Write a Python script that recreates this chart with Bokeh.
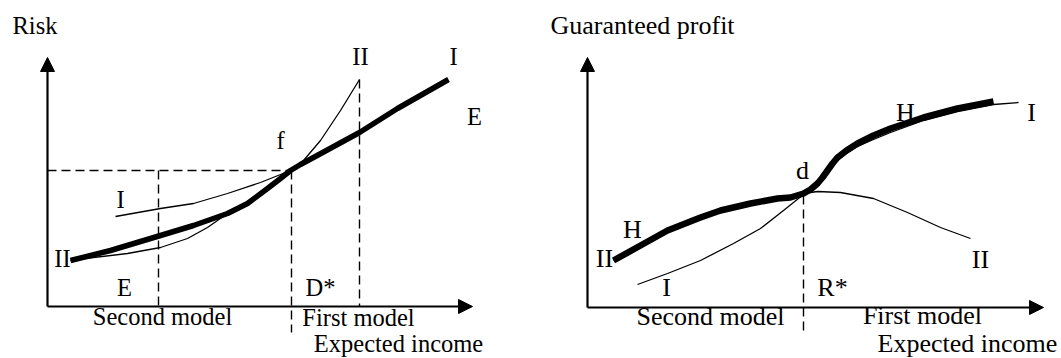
from bokeh.plotting import figure
from bokeh.models import Range1d, Arrow, NormalHead, ColumnDataSource
from bokeh.core.properties import value
from bokeh.embed import file_html
from bokeh.resources import INLINE

FONT = "Liberation Serif"

# ---------------- Left panel (Risk vs Expected income) ----------------
left_thick_x = [70, 110, 160, 193, 227, 247, 267, 280, 290, 300, 313, 359, 397, 448]
left_thick_y = [260, 250, 235, 225, 213, 203, 188, 178, 170, 164, 157, 132, 108, 79]
left_II_x = [70, 93, 127, 160, 187, 207, 227, 247, 267, 290, 303, 320, 340, 359]
left_II_y = [260, 257, 253, 247, 238, 227, 213, 203, 188, 170, 160, 140, 110, 79]
left_I_x = [115, 160, 193, 227, 260, 290]
left_I_y = [216, 208, 203, 193, 182, 170]

# ---------------- Right panel (Guaranteed profit vs Expected income) ----------------
right_H_x = [613, 640, 667, 700, 720, 750, 777, 790, 803, 810, 817, 822, 827, 832, 837, 846, 857, 873, 890, 923, 957, 993]
right_H_y = [260, 245, 230, 217, 210, 203, 198, 197, 193, 189, 183, 177, 170, 163, 157, 150, 143, 135, 128, 117, 108, 101]
right_I_x = [637, 667, 700, 733, 760, 783, 803, 810, 817, 822, 827, 832, 837, 846, 857, 873, 890, 923, 957, 993, 1018]
right_I_y = [284, 273, 260, 243, 228, 210, 194, 189, 184, 178, 172, 166, 160, 153, 146, 139, 132, 120, 111, 104, 102]
right_II_x = [613, 640, 667, 700, 720, 750, 777, 790, 803, 817, 840, 873, 907, 940, 970]
right_II_y = [260, 245, 230, 217, 210, 203, 198, 197, 193, 191, 192, 198, 212, 227, 238]

# labels: text, x, baseline y, align
left_text = ["Risk", "II", "I", "E", "f", "I", "II", "E", "D*",
             "Second model", "First model", "Expected income"]
left_lx = [12, 360, 453, 474, 280, 120, 62, 124, 320, 162, 358, 398]
left_ly = [33, 64, 64, 124, 148, 207, 266, 295, 295, 324, 325, 351]
left_align = ["left"] + ["center"] * 11

right_text = ["Guaranteed profit", "H", "I", "d", "H", "II", "II", "I", "R*",
              "Second model", "First model", "Expected income"]
right_lx = [550, 905, 1031, 802, 632, 604, 980, 666, 832, 710, 922, 967]
right_ly = [33, 120, 120, 178, 237, 266, 267, 295, 295, 324, 323, 351]
right_align = ["left"] + ["center"] * 11

p = figure(width=1061, height=358, output_backend="svg", toolbar_location=None,
           x_range=Range1d(0, 1061), y_range=Range1d(358, 0), min_border=0)
p.axis.visible = False
p.grid.visible = False
p.outline_line_color = None
p.background_fill_color = "white"
p.border_fill_color = "white"

# axes with arrows
for (x0, y0, x1, y1) in [(47, 306, 47, 57), (47, 306, 472, 306),
                         (587, 307, 587, 57), (587, 307, 1043, 307)]:
    p.add_layout(Arrow(end=NormalHead(size=14, fill_color="black", line_color="black", line_width=1),
                       x_start=x0, y_start=y0, x_end=x1, y_end=y1,
                       line_width=2.2, line_color="black"))

# dashed guide lines
dash = dict(line_color="black", line_width=1.4, line_dash="9 5")
p.segment(x0=[47, 158, 291, 359, 803], y0=[170, 170, 170, 79, 195],
          x1=[291, 158, 291, 359, 803], y1=[170, 306, 332, 306, 332], **dash)

# curves
p.line(left_II_x, left_II_y, line_color="black", line_width=1.3, line_join="round")
p.line(left_I_x, left_I_y, line_color="black", line_width=1.3, line_join="round")
p.line(left_thick_x, left_thick_y, line_color="black", line_width=5.5, line_join="round")

p.line(right_I_x, right_I_y, line_color="black", line_width=1.3, line_join="round")
p.line(right_II_x, right_II_y, line_color="black", line_width=1.3, line_join="round")
p.line(right_H_x, right_H_y, line_color="black", line_width=6.5, line_join="round")

srcL = ColumnDataSource(dict(x=left_lx, y=[v - 8 for v in left_ly], t=left_text, a=left_align))
p.text(x="x", y="y", text="t", text_align="a", source=srcL, text_baseline="middle",
       text_font=value(FONT), text_font_size="24.5px", text_color="black")
srcR = ColumnDataSource(dict(x=right_lx, y=[v - 8.5 for v in right_ly], t=right_text, a=right_align))
p.text(x="x", y="y", text="t", text_align="a", source=srcR, text_baseline="middle",
       text_font=value(FONT), text_font_size="26px", text_color="black")

open("out.html", "w").write(file_html(p, INLINE))
